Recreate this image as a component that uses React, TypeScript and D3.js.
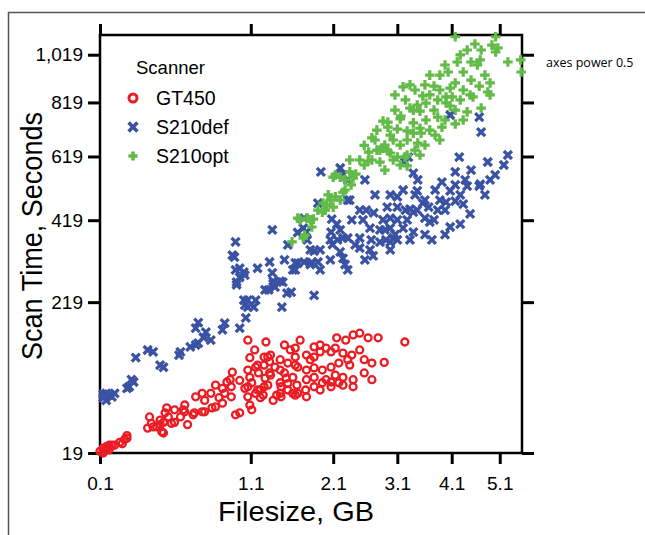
import React, { useEffect, useRef } from 'react'
import * as d3 from 'd3'

// axis ticks as printed on the chart (both axes use power 0.5)
const xTicks = [0.1, 1.1, 2.1, 3.1, 4.1, 5.1]
const yTicks = [19, 219, 419, 619, 819, 1019]
const scanners = ['GT450', 'S210def', 'S210opt']
const colors = ['#ec1c24', '#3a52a3', '#62bb47']

// [filesize GB, scan time s]
const gt450 = [
  [0.1, 20], [0.11, 22], [0.12, 22], [0.12, 23], [0.13, 23], [0.14, 24], [0.11, 19], [0.11, 20], [0.13, 21],
  [0.12, 21], [0.13, 24], [0.15, 24], [0.17, 26], [0.18, 25], [0.19, 28], [0.2, 31], [0.2, 29], [0.3, 37],
  [0.32, 41], [0.31, 47], [0.33, 38], [0.35, 38], [0.37, 40], [0.38, 34], [0.39, 42], [0.39, 33], [0.4, 51],
  [0.41, 56], [0.42, 47], [0.44, 41], [0.46, 42], [0.5, 47], [0.52, 54], [0.53, 52], [0.55, 40], [0.59, 49],
  [0.6, 51], [0.61, 68], [0.66, 72], [0.66, 52], [0.68, 52], [0.73, 72], [0.74, 56], [0.77, 57], [0.8, 67],
  [0.83, 61], [0.83, 78], [0.85, 72], [0.87, 86], [0.91, 80], [0.92, 99], [0.91, 68], [0.95, 49], [0.99, 51],
  [0.99, 88], [1.04, 78], [1.07, 148], [1.07, 102], [1.07, 80], [1.07, 68], [1.09, 120], [1.09, 92], [1.09, 59],
  [1.11, 54], [1.11, 85], [1.15, 106], [1.15, 72], [1.17, 109], [1.18, 98], [1.17, 76], [1.2, 67], [1.2, 76],
  [1.24, 121], [1.24, 109], [1.24, 80], [1.23, 70], [1.26, 145], [1.28, 121], [1.28, 82], [1.3, 114], [1.3, 98],
  [1.31, 124], [1.31, 95], [1.34, 64], [1.36, 106], [1.38, 70], [1.42, 85], [1.42, 72], [1.42, 117], [1.43, 80],
  [1.43, 68], [1.47, 98], [1.49, 91], [1.51, 112], [1.51, 84], [1.51, 76], [1.54, 132], [1.57, 92], [1.57, 72],
  [1.6, 135], [1.6, 121], [1.6, 109], [1.6, 70], [1.62, 82], [1.63, 106], [1.63, 72], [1.74, 124], [1.74, 102],
  [1.74, 89], [1.73, 76], [1.74, 68], [1.84, 137], [1.84, 121], [1.84, 105], [1.84, 92], [1.84, 80], [1.92, 129],
  [1.92, 76], [1.95, 102], [1.95, 85], [2.0, 135], [2.0, 89], [2.07, 129], [2.07, 106], [2.07, 86], [2.07, 80],
  [2.13, 95], [2.15, 152], [2.18, 112], [2.18, 85], [2.24, 127], [2.24, 92], [2.24, 82], [2.28, 148], [2.31, 117],
  [2.37, 124], [2.39, 157], [2.39, 89], [2.39, 80], [2.49, 160], [2.56, 117], [2.56, 98], [2.62, 152], [2.68, 112],
  [2.68, 89], [2.78, 152], [2.88, 113], [3.23, 145],
  [1.14, 132], [1.47, 140], [1.66, 148], [1.92, 140], [2.13, 135], [2.34, 109], [2.49, 132], [1.79, 117],
  [1.42, 102], [1.25, 91], [0.9, 89], [0.77, 82], [0.68, 64], [0.53, 59], [0.46, 54], [0.37, 44]
]

const s210def = [
  [0.11, 67], [0.11, 71], [0.12, 64], [0.12, 72], [0.13, 70], [0.14, 68], [0.15, 72], [0.2, 78], [0.21, 80],
  [0.22, 89], [0.23, 86], [0.24, 120], [0.3, 132], [0.33, 129], [0.37, 109], [0.39, 106], [0.49, 124], [0.5, 129],
  [0.57, 137], [0.61, 140], [0.63, 143], [0.61, 169], [0.63, 179], [0.67, 153], [0.69, 162], [0.73, 148],
  [0.83, 166], [0.85, 178], [0.92, 326], [0.94, 321], [0.95, 360], [0.95, 290], [0.96, 262], [0.96, 256],
  [0.99, 294], [0.99, 273], [0.99, 169], [1.03, 285], [1.03, 223], [1.04, 278], [1.04, 213], [1.05, 188],
  [1.07, 223], [1.07, 209], [1.13, 209], [1.15, 223], [1.17, 294], [1.25, 245], [1.29, 245], [1.3, 309],
  [1.33, 392], [1.33, 283], [1.34, 264], [1.34, 258], [1.36, 251], [1.42, 264], [1.44, 209], [1.45, 262],
  [1.5, 238], [1.51, 352], [1.55, 240], [1.57, 290], [1.6, 307], [1.6, 290], [1.63, 385], [1.63, 306], [1.7, 397],
  [1.71, 425], [1.71, 309], [1.74, 386], [1.75, 365], [1.79, 339], [1.79, 303], [1.81, 308], [1.84, 336],
  [1.84, 233], [1.89, 469], [1.89, 309], [1.92, 339], [1.93, 567], [2.06, 314], [2.07, 386], [2.08, 422],
  [2.09, 353], [2.15, 408], [2.16, 365], [2.2, 580], [2.2, 392], [2.2, 334], [2.24, 557], [2.24, 370], [2.24, 318],
  [2.27, 303], [2.31, 290], [2.31, 541], [2.31, 478], [2.31, 370], [2.37, 420], [2.49, 370], [2.49, 344],
  [2.54, 420], [2.57, 541], [2.59, 448], [2.65, 397], [2.65, 339], [2.67, 365], [2.7, 324], [2.71, 440],
  [2.81, 392], [2.81, 359], [2.86, 420], [2.91, 365], [2.93, 457], [2.98, 494], [2.98, 425], [2.98, 397],
  [2.98, 359], [2.98, 339], [3.03, 370], [3.1, 488], [3.1, 457], [3.1, 420], [3.1, 365], [3.2, 509], [3.2, 397],
  [3.23, 600], [3.27, 420], [3.29, 617], [3.32, 451], [3.32, 365], [3.38, 563], [3.38, 442], [3.38, 386],
  [3.45, 506], [3.45, 448], [3.46, 541], [3.55, 469], [3.59, 425], [3.66, 457], [3.68, 414], [3.76, 420],
  [3.83, 448], [3.91, 534], [3.99, 472], [4.07, 770], [4.07, 506], [4.17, 567], [4.17, 475], [4.25, 617],
  [4.33, 466], [4.41, 521], [4.49, 573], [4.66, 762], [4.66, 521], [4.7, 706], [4.84, 600], [5.19, 590],
  [5.28, 624], [3.87, 478], [3.97, 448], [4.27, 494], [4.47, 437], [4.68, 527], [4.89, 541], [5.0, 557],
  [4.78, 494], [4.27, 408], [4.07, 400], [3.72, 365], [3.59, 379], [3.97, 379],
  [2.34, 478], [2.49, 448], [2.73, 494], [2.89, 392], [3.06, 379], [3.24, 448], [3.41, 494], [3.59, 478],
  [3.78, 509], [4.17, 525], [4.37, 541], [2.42, 352], [2.57, 314], [2.06, 365], [1.92, 290], [1.47, 314]
]

const s210opt = [
  [1.56, 360], [1.63, 425], [1.66, 420], [1.7, 370], [1.72, 378], [1.75, 425], [1.79, 420], [1.81, 400],
  [1.83, 422], [1.89, 448], [1.95, 442], [1.96, 469], [1.99, 448], [2.01, 463], [2.03, 494], [2.06, 478],
  [2.1, 550], [2.1, 457], [2.13, 557], [2.13, 488], [2.2, 550], [2.2, 478], [2.24, 502], [2.27, 541], [2.27, 509],
  [2.34, 567], [2.36, 525], [2.39, 547], [2.43, 560], [2.56, 658], [2.56, 590], [2.62, 603], [2.63, 634],
  [2.68, 685], [2.68, 607], [2.76, 713], [2.76, 641], [2.81, 641], [2.81, 600], [2.86, 747], [2.86, 648],
  [2.94, 743], [2.94, 724], [2.94, 638], [2.98, 631], [3.03, 677], [3.03, 607], [3.1, 717], [3.1, 617],
  [3.15, 755], [3.16, 766], [3.2, 882], [3.23, 617], [3.27, 710], [3.27, 677], [3.27, 624], [3.27, 587],
  [3.32, 797], [3.38, 789], [3.38, 740], [3.38, 702], [3.45, 809], [3.46, 666], [3.5, 785], [3.5, 720],
  [3.52, 702], [3.55, 845], [3.61, 816], [3.61, 751], [3.68, 713], [3.76, 885], [3.76, 789], [3.83, 829],
  [3.83, 762], [3.87, 931], [3.91, 724], [3.99, 841], [3.99, 817], [4.03, 944], [4.07, 805], [4.11, 841],
  [4.17, 1100], [4.17, 898], [4.17, 789], [4.21, 987], [4.33, 944], [4.33, 869], [4.33, 751], [4.41, 1040],
  [4.41, 782], [4.49, 987], [4.49, 910], [4.53, 841], [4.57, 1067], [4.62, 974], [4.66, 885], [4.7, 1040],
  [4.7, 797], [4.84, 861], [4.89, 898], [4.89, 849], [4.93, 1062], [5.01, 1100], [5.01, 1031], [5.06, 1049],
  [5.28, 987], [5.57, 996], [5.58, 944], [3.06, 789], [3.24, 829], [3.41, 869], [3.59, 890], [3.68, 849],
  [3.87, 869], [4.07, 877], [4.27, 829], [3.97, 751], [3.78, 695], [3.59, 659], [3.41, 641], [3.15, 659],
  [2.98, 695], [2.89, 659], [2.73, 677],
  [3.06, 849], [3.32, 890], [3.68, 931], [3.97, 974], [4.27, 1018], [4.68, 996], [4.78, 931], [4.47, 849],
  [4.17, 736], [3.87, 677], [3.5, 624], [3.15, 590], [2.89, 573], [2.49, 607], [2.34, 607]
]

const FONT = 'Liberation Sans, Arial, sans-serif'

function drawMark(g, i, big) {
  if (i === 0) {
    g.append('circle').attr('r', big ? 4 : 3.5).attr('fill', 'none')
      .attr('stroke', colors[0]).attr('stroke-width', big ? 3 : 2.3)
  } else if (i === 1) {
    const s = big ? 4.4 : 4
    g.append('path').attr('d', `M${-s},${-s}L${s},${s}M${-s},${s}L${s},${-s}`)
      .attr('stroke', colors[1]).attr('stroke-width', big ? 3.6 : 3.3).attr('fill', 'none')
  } else {
    const s = big ? 4.6 : 4.8
    g.append('path').attr('d', `M${-s},0H${s}M0,${-s}V${s}`)
      .attr('stroke', colors[2]).attr('stroke-width', big ? 3.6 : 3.2).attr('fill', 'none')
  }
}

export default function App() {
  const ref = useRef(null)

  useEffect(() => {
    const svg = d3.select(ref.current)
    svg.selectAll('*').remove()

    const left = 100, right = 522, top = 35, bottom = 453

    const x = d3.scalePow().exponent(0.5).domain([0.1, 5.6]).range([left, right])
    const y = d3.scalePow().exponent(0.5).domain([19, 1108]).range([bottom, top])

    // outer frame of the figure
    svg.append('rect').attr('x', 8.5).attr('y', 12.5).attr('width', 700).attr('height', 600)
      .attr('fill', 'none').attr('stroke', '#555').attr('stroke-width', 1.5)

    // axes
    const axL = svg.append('g').attr('transform', `translate(${left},0)`)
      .call(d3.axisLeft(y).tickValues(yTicks).tickSize(12).tickPadding(5).tickFormat(d3.format(',')))
    const axR = svg.append('g').attr('transform', `translate(${right},0)`)
      .call(d3.axisRight(y).tickValues(yTicks).tickSize(12).tickFormat(() => ''))
    const axB = svg.append('g').attr('transform', `translate(0,${bottom})`)
      .call(d3.axisBottom(x).tickValues(xTicks).tickSize(11).tickPadding(13).tickFormat(d3.format('.1f')))
    const axT = svg.append('g').attr('transform', `translate(0,${top})`)
      .call(d3.axisTop(x).tickValues(xTicks).tickSize(11).tickFormat(() => ''))

    ;[axL, axR, axB, axT].forEach(a => {
      a.select('.domain').remove()
      a.selectAll('line').attr('stroke', '#000').attr('stroke-width', 3)
      a.selectAll('text').attr('font-family', FONT).attr('font-size', 19).attr('fill', '#000')
    })

    svg.append('rect').attr('x', left).attr('y', top).attr('width', right - left).attr('height', bottom - top)
      .attr('fill', 'none').attr('stroke', '#000').attr('stroke-width', 2.5)

    // points
    const series = [gt450, s210def, s210opt]
    series.forEach((data, i) => {
      const g = svg.append('g')
      data.forEach(d => {
        const m = g.append('g').attr('transform', `translate(${x(d[0])},${y(d[1])})`)
        drawMark(m, i, false)
      })
    })

    // legend
    const lg = svg.append('g')
    lg.append('text').attr('x', 136).attr('y', 74).attr('font-family', FONT).attr('font-size', 18.5)
      .text('Scanner')
    scanners.forEach((name, i) => {
      const cy = 98 + i * 29
      const m = lg.append('g').attr('transform', `translate(133,${cy})`)
      drawMark(m, i, true)
      lg.append('text').attr('x', 156).attr('y', cy + 6.5).attr('font-family', FONT).attr('font-size', 19.5)
        .text(name)
    })

    // axis titles
    svg.append('text').attr('transform', `translate(42,236) rotate(-90)`).attr('text-anchor', 'middle')
      .attr('font-family', FONT).attr('font-size', 29).attr('textLength', 248)
      .attr('lengthAdjust', 'spacingAndGlyphs').text('Scan Time, Seconds')
    svg.append('text').attr('x', 296).attr('y', 521).attr('text-anchor', 'middle')
      .attr('font-family', FONT).attr('font-size', 28).attr('textLength', 156)
      .attr('lengthAdjust', 'spacingAndGlyphs').text('Filesize, GB')

    svg.append('text').attr('x', 546).attr('y', 67).attr('font-family', 'Open Sans, sans-serif')
      .attr('font-size', 12.5).text('axes power 0.5')
  }, [])

  return (
    <svg ref={ref} width={645} height={535} style={{ position: 'absolute', left: 0, top: 0, background: '#fff' }} />
  )
}
